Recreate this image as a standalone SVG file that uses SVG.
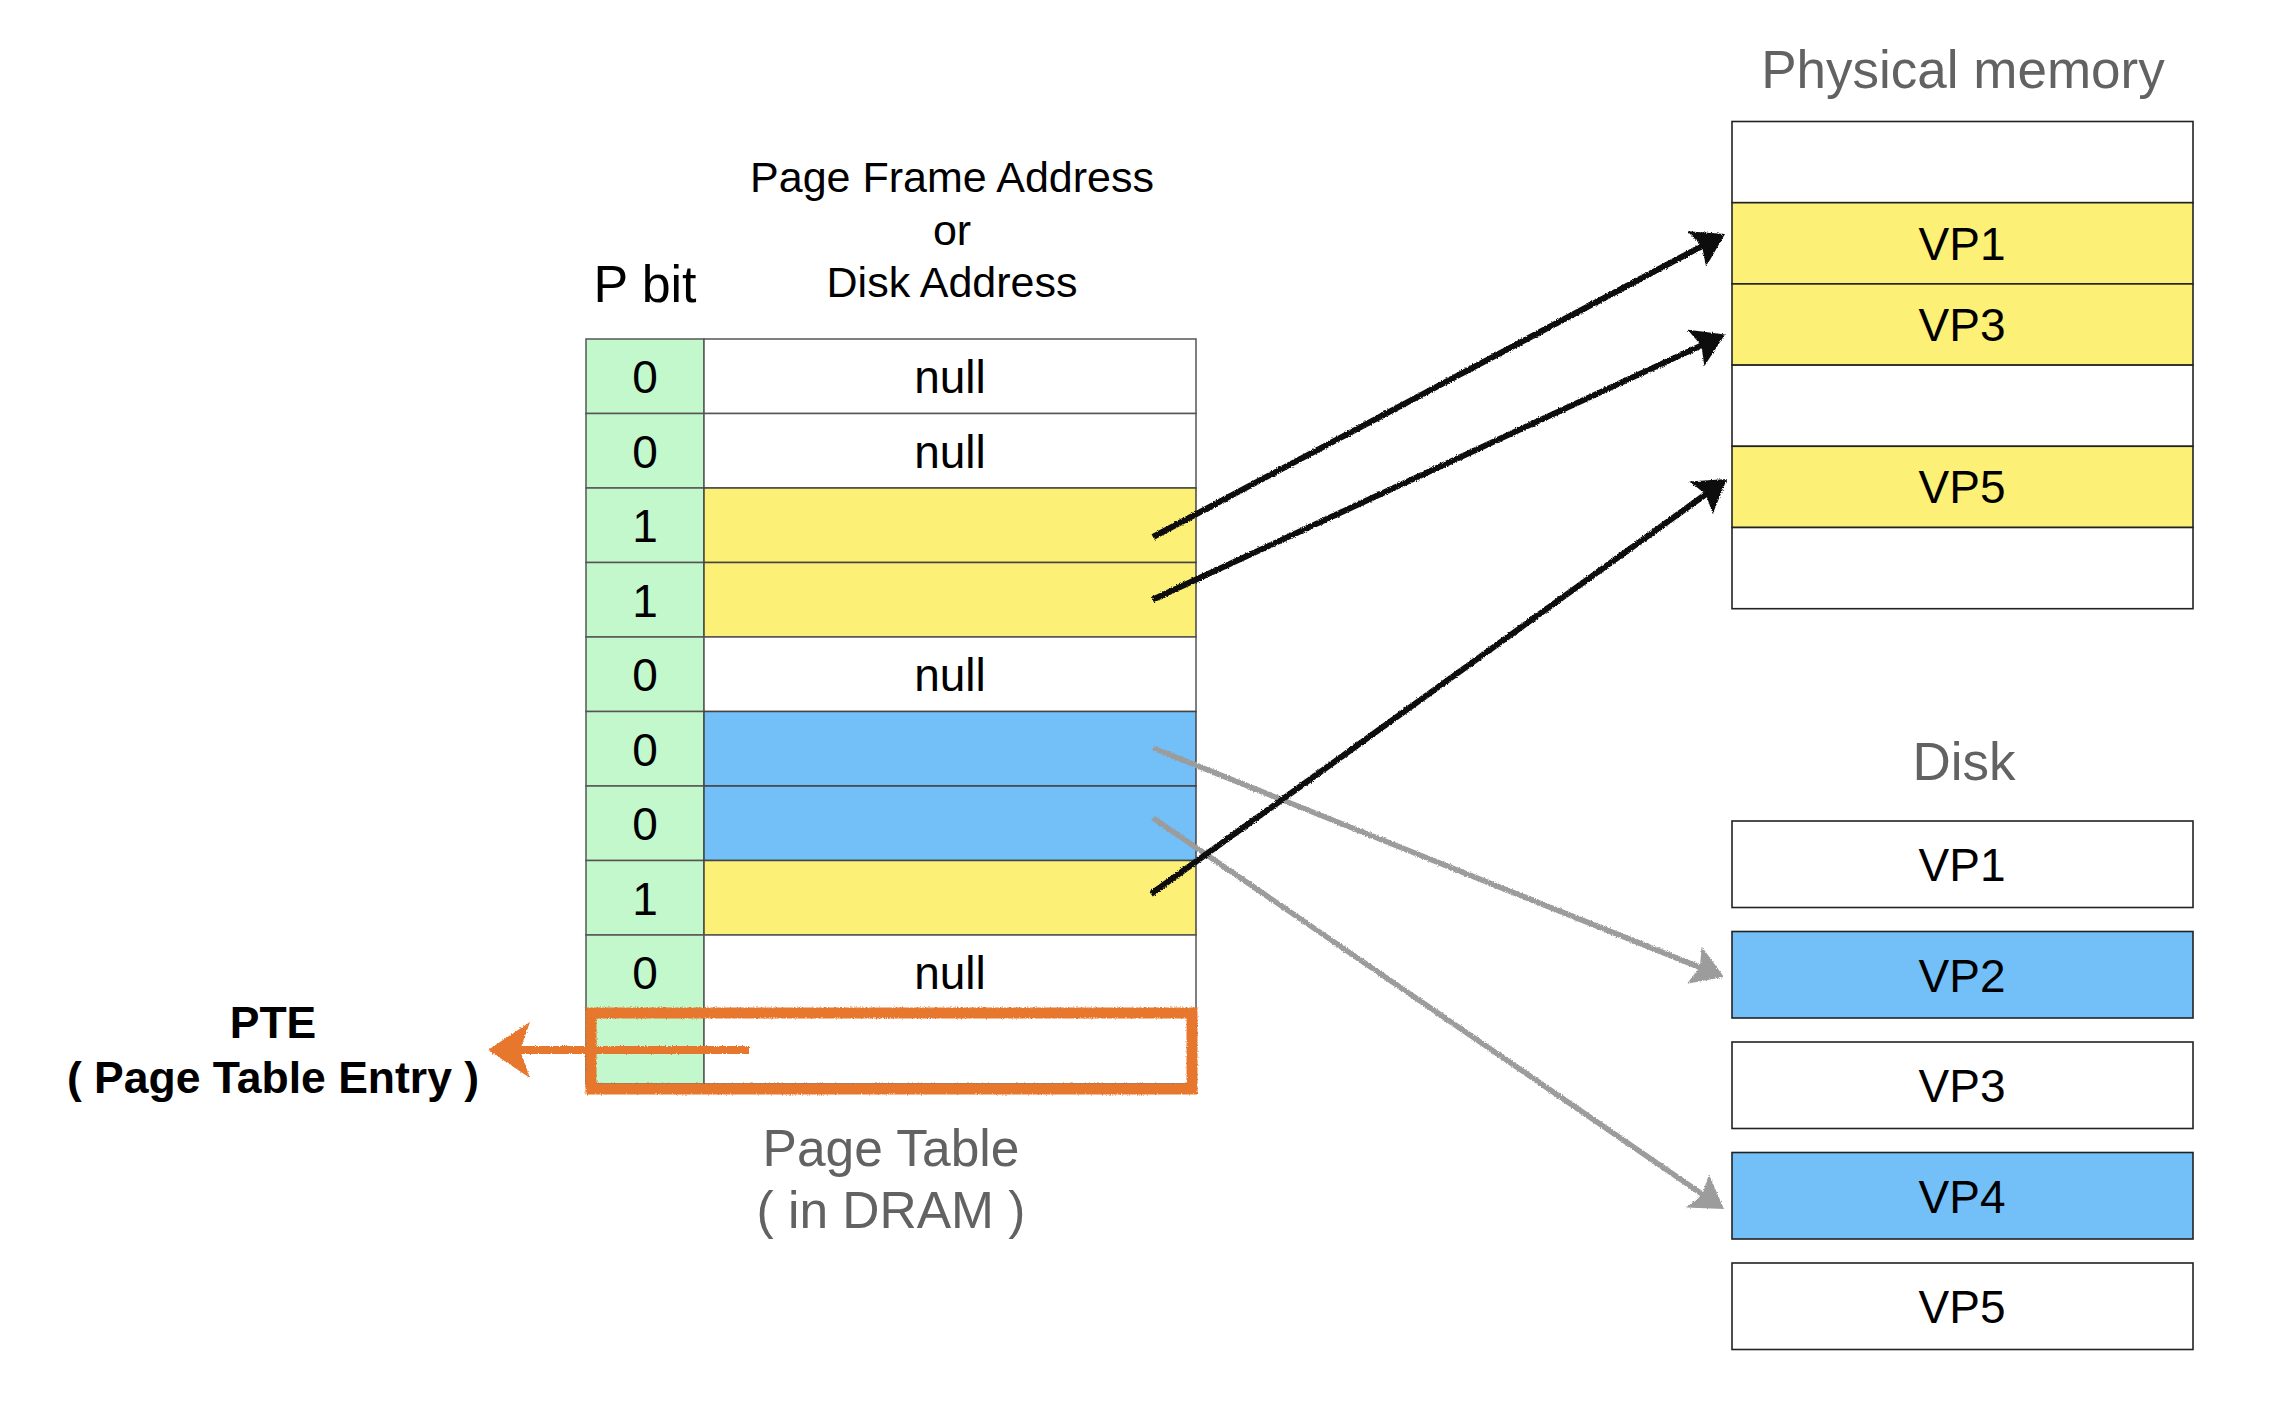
<svg xmlns="http://www.w3.org/2000/svg" width="2282" height="1424" viewBox="0 0 2282 1424">
<style>
text{font-family:"Liberation Sans",Arial,Helvetica,sans-serif;text-anchor:middle}
.lbl{font-size:46px;fill:#000}
.hdr{font-size:43px;fill:#000}
.ttl{font-size:53px;fill:#626262}
.vp{font-size:46px;fill:#000}
.pte{font-size:44.5px;font-weight:bold;fill:#000}
.g{fill:#c3f8cd;stroke:#555;stroke-width:1.5}
.w{fill:#ffffff;stroke:#555;stroke-width:1.5}
.y{fill:#fcf076;stroke:#444;stroke-width:1.5}
.b{fill:#73bff8;stroke:#444;stroke-width:1.5}
.pm{stroke:#222;stroke-width:1.6}
.blk{stroke:#111;stroke-width:6;fill:none;marker-end:url(#ah-blk)}
.gry{stroke:#9c9c9c;stroke-width:5.5;fill:none;marker-end:url(#ah-gry)}
.org{stroke:#e8772f;fill:none}
</style>
<defs>
<marker id="ah-blk" markerUnits="userSpaceOnUse" viewBox="0 0 32 40" markerWidth="32" markerHeight="40" refX="8" refY="20" orient="auto">
<path d="M0,0 L32,20 L0,40 L6,20 z" fill="#111"/>
</marker>
<marker id="ah-gry" markerUnits="userSpaceOnUse" viewBox="0 0 32 40" markerWidth="32" markerHeight="40" refX="8" refY="20" orient="auto">
<path d="M0,0 L32,20 L0,40 L6,20 z" fill="#9c9c9c"/>
</marker>
<filter id="rough" filterUnits="userSpaceOnUse" x="0" y="0" width="2282" height="1424">
<feTurbulence type="fractalNoise" baseFrequency="0.8" numOctaves="2" seed="3" result="n"/>
<feDisplacementMap in="SourceGraphic" in2="n" scale="3" xChannelSelector="R" yChannelSelector="G"/>
</filter>
</defs>
<rect width="2282" height="1424" fill="#ffffff"/>

<g id="page-table-headers">
<text class="hdr" x="952" y="192">Page Frame Address</text>
<text class="hdr" x="952" y="245">or</text>
<text class="hdr" x="952" y="297">Disk Address</text>
<text x="645" y="302" style="font-size:52px">P bit</text>
</g>

<g id="page-table">
<g id="pte-0"><rect class="g" x="586" y="339" width="118" height="74.5"/><rect class="w" x="704" y="339" width="492" height="74.5"/><text class="lbl" x="645" y="393">0</text><text class="lbl" x="950" y="393">null</text></g>
<g id="pte-1"><rect class="g" x="586" y="413.5" width="118" height="74.5"/><rect class="w" x="704" y="413.5" width="492" height="74.5"/><text class="lbl" x="645" y="467.5">0</text><text class="lbl" x="950" y="467.5">null</text></g>
<g id="pte-2"><rect class="g" x="586" y="488" width="118" height="74.5"/><rect class="y" x="704" y="488" width="492" height="74.5"/><text class="lbl" x="645" y="542">1</text></g>
<g id="pte-3"><rect class="g" x="586" y="562.5" width="118" height="74.5"/><rect class="y" x="704" y="562.5" width="492" height="74.5"/><text class="lbl" x="645" y="616.5">1</text></g>
<g id="pte-4"><rect class="g" x="586" y="637" width="118" height="74.5"/><rect class="w" x="704" y="637" width="492" height="74.5"/><text class="lbl" x="645" y="691">0</text><text class="lbl" x="950" y="691">null</text></g>
<g id="pte-5"><rect class="g" x="586" y="711.5" width="118" height="74.5"/><rect class="b" x="704" y="711.5" width="492" height="74.5"/><text class="lbl" x="645" y="765.5">0</text></g>
<g id="pte-6"><rect class="g" x="586" y="786" width="118" height="74.5"/><rect class="b" x="704" y="786" width="492" height="74.5"/><text class="lbl" x="645" y="840">0</text></g>
<g id="pte-7"><rect class="g" x="586" y="860.5" width="118" height="74.5"/><rect class="y" x="704" y="860.5" width="492" height="74.5"/><text class="lbl" x="645" y="914.5">1</text></g>
<g id="pte-8"><rect class="g" x="586" y="935" width="118" height="74.5"/><rect class="w" x="704" y="935" width="492" height="74.5"/><text class="lbl" x="645" y="989">0</text><text class="lbl" x="950" y="989">null</text></g>
<g id="pte-9"><rect class="g" x="586" y="1009.5" width="118" height="74.5"/><rect class="w" x="704" y="1009.5" width="492" height="74.5"/></g>
<text class="ttl" x="891" y="1166" style="font-size:51.5px">Page Table</text>
<text class="ttl" x="891" y="1228" style="font-size:51.5px">( in DRAM )</text>
</g>

<g id="physical-memory">
<text class="ttl" x="1963" y="88">Physical memory</text>
<rect class="pm" fill="#ffffff" x="1732" y="121.5" width="461" height="81.2"/>
<g id="pm-vp1"><rect class="pm" fill="#fcf076" x="1732" y="202.7" width="461" height="81.2"/><text class="vp" x="1962" y="260">VP1</text></g>
<g id="pm-vp3"><rect class="pm" fill="#fcf076" x="1732" y="283.9" width="461" height="81.2"/><text class="vp" x="1962" y="341">VP3</text></g>
<rect class="pm" fill="#ffffff" x="1732" y="365.1" width="461" height="81.2"/>
<g id="pm-vp5"><rect class="pm" fill="#fcf076" x="1732" y="446.3" width="461" height="81.2"/><text class="vp" x="1962" y="503">VP5</text></g>
<rect class="pm" fill="#ffffff" x="1732" y="527.5" width="461" height="81.2"/>
</g>

<g id="disk">
<text class="ttl" x="1964" y="780">Disk</text>
<g id="disk-vp1"><rect class="pm" fill="#ffffff" x="1732" y="821" width="461" height="86.5"/><text class="vp" x="1962" y="881">VP1</text></g>
<g id="disk-vp2"><rect class="pm" fill="#73bff8" x="1732" y="931.5" width="461" height="86.5"/><text class="vp" x="1962" y="991.5">VP2</text></g>
<g id="disk-vp3"><rect class="pm" fill="#ffffff" x="1732" y="1042" width="461" height="86.5"/><text class="vp" x="1962" y="1102">VP3</text></g>
<g id="disk-vp4"><rect class="pm" fill="#73bff8" x="1732" y="1152.5" width="461" height="86.5"/><text class="vp" x="1962" y="1212.5">VP4</text></g>
<g id="disk-vp5"><rect class="pm" fill="#ffffff" x="1732" y="1263" width="461" height="86.5"/><text class="vp" x="1962" y="1323">VP5</text></g>
</g>

<g id="pte-label">
<text class="pte" x="273" y="1038">PTE</text>
<text class="pte" x="273" y="1093">( Page Table Entry )</text>
</g>

<g id="connectors" filter="url(#rough)">
<line class="gry" x1="1153" y1="748" x2="1701.7" y2="968.1"/>
<line class="gry" x1="1153" y1="818" x2="1704.2" y2="1195.4"/>
<line class="blk" x1="1153" y1="537" x2="1703.8" y2="245.2"/>
<line class="blk" x1="1153" y1="599.5" x2="1703.2" y2="344.6"/>
<line class="blk" x1="1151" y1="894" x2="1707.5" y2="493"/>
<rect class="org" x="591" y="1013" width="601" height="76" stroke-width="11"/>
<line class="org" x1="749" y1="1050" x2="518" y2="1050" stroke-width="8"/>
<polygon points="488,1050 530,1022 520,1050 530,1078" fill="#e8772f"/>
</g>
</svg>
